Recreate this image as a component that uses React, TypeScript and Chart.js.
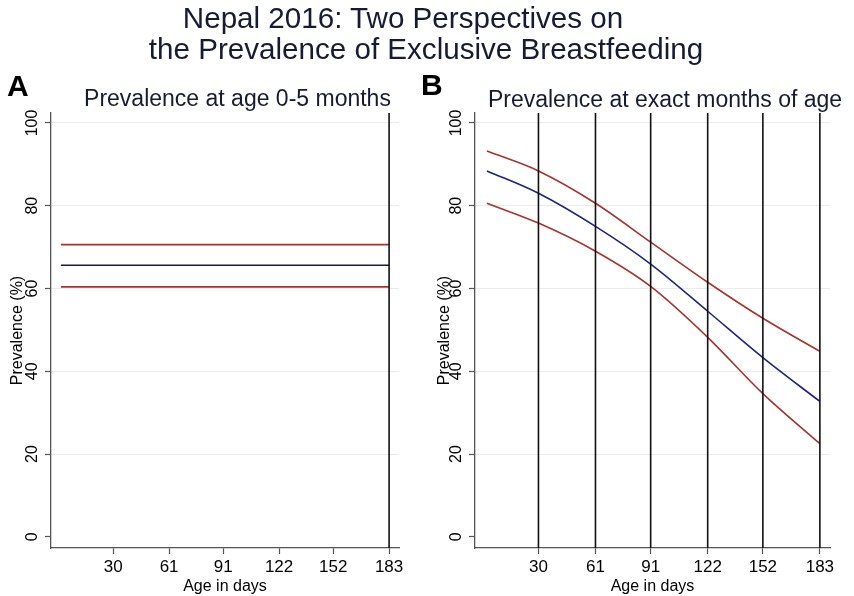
import { useEffect, useRef } from "react";
import { Chart, registerables } from "chart.js";

Chart.register(...registerables);

// shared axes
const tickDays = [30, 61, 91, 122, 152, 183];
const yTicks = [0, 20, 40, 60, 80, 100];

// panel A: prevalence at age 0-5 months (flat estimate + CI)
const panelADays = [1, 183];
const panelAUpper = [70.6, 70.6];
const panelAMean = [65.6, 65.6];
const panelALower = [60.4, 60.4];
const panelAMarkers = [183];

// panel B: prevalence at exact months of age
const panelBDays = [2, 30, 61, 91, 122, 152, 183];
const panelBUpper = [93.2, 88.4, 80.6, 71.2, 61.5, 52.8, 44.8];
const panelBMean = [88.4, 83.0, 75.0, 65.9, 54.5, 43.3, 32.7];
const panelBLower = [80.6, 75.8, 69.0, 60.5, 48.2, 34.6, 22.5];
const panelBMarkers = [30, 61, 91, 122, 152, 183];

const X_MIN = -4.5;
const X_MAX = 188.5;
const Y_MIN = -2.7;
const Y_MAX = 102.4;

const FONT = "'Liberation Sans', Arial, sans-serif";
const RED = "#a8322c";
const INK = "#161b33";

type PanelProps = {
  days: number[];
  upper: number[];
  mean: number[];
  lower: number[];
  markers: number[];
  meanColor: string;
  left: number;
  width: number;
  axisWidth: number;
  rightPad: number;
  titlePad: number;
};

const Panel = (p: PanelProps) => {
  const canvasRef = useRef<HTMLCanvasElement | null>(null);

  useEffect(() => {
    if (!canvasRef.current) return;

    const pts = (ys: number[]) => p.days.map((d, i) => ({ x: d, y: ys[i] }));
    const band = (ys: number[], color: string) => ({
      data: pts(ys),
      borderColor: color,
      borderWidth: 1.6,
      pointRadius: 0,
      cubicInterpolationMode: "monotone" as const,
      fill: false,
    });
    const verticals = p.markers.map((d) => ({
      data: [
        { x: d, y: Y_MIN },
        { x: d, y: Y_MAX },
      ],
      borderColor: "#111",
      borderWidth: 1.6,
      pointRadius: 0,
    }));

    const tickFont = { family: FONT, size: 16 };

    const chart = new Chart(canvasRef.current, {
      type: "line",
      data: {
        datasets: [
          ...verticals,
          band(p.upper, RED),
          band(p.lower, RED),
          band(p.mean, p.meanColor),
        ],
      },
      options: {
        animation: false,
        responsive: false,
        events: [],
        layout: { padding: { top: 113, right: p.rightPad, left: 0, bottom: 0 } },
        plugins: {
          legend: { display: false },
          tooltip: { enabled: false },
        },
        scales: {
          x: {
            type: "linear",
            min: X_MIN,
            max: X_MAX,
            afterBuildTicks: (s: any) => {
              s.ticks = tickDays.map((v) => ({ value: v }));
            },
            afterFit: (s: any) => {
              s.height = 48;
            },
            grid: {
              drawOnChartArea: false,
              tickLength: 6,
              tickColor: "#555",
              tickWidth: 1.2,
            },
            border: { color: "#555", width: 1.3 },
            ticks: {
              color: "#000",
              font: { family: FONT, size: 17 },
              padding: 3,
              maxRotation: 0,
              autoSkip: false,
            },
            title: {
              display: true,
              text: "Age in days",
              color: "#000",
              font: tickFont,
              padding: { top: 0, bottom: 0 },
            },
          },
          y: {
            type: "linear",
            min: Y_MIN,
            max: Y_MAX,
            afterBuildTicks: (s: any) => {
              s.ticks = yTicks.map((v) => ({ value: v }));
            },
            afterFit: (s: any) => {
              s.width = p.axisWidth;
            },
            grid: {
              color: (c: any) =>
                c.tick && c.tick.value === 0 ? "rgba(0,0,0,0)" : "#ebebeb",
              tickColor: "#555",
              tickLength: 6,
              tickWidth: 1.2,
              lineWidth: 1,
            },
            border: { color: "#555", width: 1.3 },
            ticks: {
              color: "#000",
              font: tickFont,
              minRotation: 90,
              maxRotation: 90,
              crossAlign: "center",
              padding: -1,
              autoSkip: false,
            },
            title: {
              display: true,
              text: "Prevalence (%)",
              color: "#000",
              font: tickFont,
              padding: { top: p.titlePad, bottom: 0 },
            },
          },
        },
      },
    } as any);

    return () => {
      chart.destroy();
    };
  }, []);

  return (
    <canvas
      ref={canvasRef}
      width={p.width}
      height={596}
      style={{ position: "absolute", left: p.left, top: 0, width: p.width, height: 596 }}
    ></canvas>
  );
};

const textStyle = (
  centre: number,
  top: number,
  size: number,
  bold = false
): React.CSSProperties => ({
  position: "absolute",
  left: centre - 400,
  width: 800,
  top,
  textAlign: "center",
  fontFamily: FONT,
  fontSize: size,
  lineHeight: `${size}px`,
  fontWeight: bold ? "bold" : "normal",
  color: INK,
  whiteSpace: "nowrap",
});

const App = () => {
  return (
    <div
      style={{
        position: "absolute",
        left: 0,
        top: 0,
        width: 854,
        height: 596,
        background: "#fff",
        overflow: "hidden",
      }}
    >
      <Panel
        days={panelADays}
        upper={panelAUpper}
        mean={panelAMean}
        lower={panelALower}
        markers={panelAMarkers}
        meanColor="#1a1a3c"
        left={0}
        width={420}
        axisWidth={51}
        rightPad={21}
        titlePad={8.4}
      />
      <Panel
        days={panelBDays}
        upper={panelBUpper}
        mean={panelBMean}
        lower={panelBLower}
        markers={panelBMarkers}
        meanColor="#1c2484"
        left={420}
        width={434}
        axisWidth={55}
        rightPad={24}
        titlePad={15.4}
      />
      <div style={textStyle(403, 3, 29.6)}>Nepal 2016: Two Perspectives on</div>
      <div style={textStyle(426, 34, 29.6)}>the Prevalence of Exclusive Breastfeeding</div>
      <div style={textStyle(237.5, 87, 23)}>Prevalence at age 0-5 months</div>
      <div style={textStyle(665, 88, 23)}>Prevalence at exact months of age</div>
      <div style={{ ...textStyle(0, 71, 30, true), left: 7, width: "auto", textAlign: "left", color: "#000" }}>A</div>
      <div style={{ ...textStyle(0, 70, 30, true), left: 421, width: "auto", textAlign: "left", color: "#000" }}>B</div>
    </div>
  );
};

export default App;
